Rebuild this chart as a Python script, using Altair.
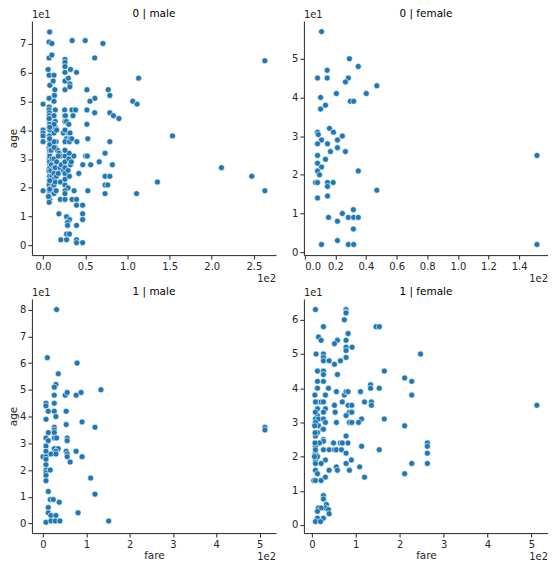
import altair as alt
import pandas as pd

# ---- data (fare, age) ----
# survived 0 | male
m0_fare = [7.8, 7.1, 10.5, 34.5, 50, 71, 61.2, 7.1, 10.5,
           26, 26, 26, 26, 26, 26,
           32.5, 39.7, 6, 7.2, 13, 12, 30, 31.8, 31.8,
           113.3, 8, 14, 52, 77.3, 79.2, 61.4, 55.6, 106.4, 111.5,
           13.5, 7.2, 13, 0, 7.3, 7.2, 7.5, 7.3, 14.5, 25.6, 25.6, 26, 34.2, 38.5, 35.5, 52, 61.2, 79.2, 83.5, 90,
           7.7, 7.9, 7.6, 8.05, 14.4, 14.5, 0, 0, 0, 0, 52, 153.5, 24, 30, 32, 27.7, 32, 40.1, 53.1, 79.2,
           7.9, 8.05, 7.2, 15.5, 14.5, 17, 19, 21, 36.5, 50.5, 52.5, 73.5, 26, 31, 66.6, 82.2, 47.1, 56.5, 32.5,
           42.4, 73.5, 79.2, 73.5, 76.7, 73.5, 135.6, 110.9, 53.1, 36.8, 0, 7.1,
           20.5, 26, 34.4, 39.7, 39.7, 46.9, 46.9, 46.9, 18.8, 27.9, 31.4, 29, 29.1, 39.7, 27.9, 31.3, 21.1, 27.9,
           39.7, 39.7, 46.9,
           263, 263, 211.5, 247.5,
           7.25, 7.9, 7.75, 8.05, 7.9, 7.25, 7.8, 7.05, 8.05, 7.9, 6.95, 7.85, 7.25, 7.5, 7.9, 8.05, 7.75, 8.05,
           7.9, 7.75, 8.05, 6.5, 9.5, 9.2, 9.5, 9.8, 10.5, 10.5, 13, 13, 13, 13, 13, 13, 13, 13, 13, 13, 13,
           14.5, 14.5, 15.5, 15.85, 16.1, 16.1, 18, 18, 20.2, 20.5, 21.7, 24.2, 26, 26, 26, 26, 26, 26, 26, 26,
           26.55, 27.7, 29.7, 29.7, 30.7, 30.5, 31.3, 31.3, 33.5, 34, 26, 26, 7.25, 7.9, 8.0, 7.75, 7.9, 7.25]
m0_age = [74, 70.5, 70, 71, 71, 70, 65, 65, 66,
          64.5, 63.5, 62, 60, 57, 54,
          61, 60, 61, 59, 59, 57, 58, 56, 55,
          58, 55.5, 54, 54, 54, 52, 51, 50, 50, 49,
          52, 51, 50, 49, 48, 47, 46, 45, 47, 47, 45, 43, 47, 47, 45, 47, 46, 46, 45, 44,
          43, 42, 41, 40, 43, 41, 40, 39, 38, 36, 42, 38, 39, 39, 39, 37, 37, 36, 37, 36,
          36, 35, 34, 36, 34, 33, 32, 31, 31, 31, 31, 32, 31, 32, 29, 28, 28, 28, 28,
          25, 24, 24, 21, 21, 18, 22, 18, 19, 19, 19, 19,
          16, 16, 16, 16, 14, 14, 11, 9, 11, 10, 9, 8, 7, 7, 4, 4, 2, 2,
          2, 1, 1,
          64, 19, 27, 24,
          22, 20, 18, 25, 28, 30, 32, 26, 35, 16, 17, 19, 21, 23, 24, 27, 29, 31,
          33, 38, 44, 17, 20, 26, 33, 28, 30, 24, 18, 21, 23, 25, 27, 30, 34, 36, 39, 42, 45,
          22, 27, 19, 24, 29, 40, 25, 31, 27, 22, 28, 26, 21, 23, 25, 27, 29, 33, 36, 40,
          45, 43, 20, 26, 30, 42, 36, 24, 29, 37, 19, 18, 15, 19.5, 22.5, 37, 41, 44]

# survived 0 | female
f0_fare = [11, 29.2, 35, 14.7, 8.4, 14.7, 28.5, 26.6, 47.1, 20.7, 40.2, 10.4, 29.8, 32, 13.6, 10.4,
           16.2, 18.8, 8.4, 8.9, 24.6, 11, 21.4, 8.4, 14.9, 21.4, 16.8, 26.6, 8.4, 13.6, 8.4, 11, 8.4, 35,
           9.7, 7.1, 8.4, 14.9, 18.6, 14.9, 47.1, 8.4, 14.9, 31.8, 24.6, 15.6, 28.5, 32, 35, 21.4, 31.8,
           21.4, 11, 28.5, 32, 151.6, 151.6]
f0_age = [57, 50, 48, 47, 45, 45, 45, 44, 43, 41, 41, 40, 39, 39, 38, 37,
          32, 31, 31, 30.4, 30, 29, 29, 28, 28, 27, 26, 26, 25, 24, 23, 22, 21, 21,
          20, 18, 18, 18, 18, 17, 16, 14, 14.5, 11, 10, 9, 9, 9, 9, 8, 6,
          3, 2, 2, 2, 25, 2]

# survived 1 | male
m1_fare = [31.3, 10, 78.7, 35.2, 29.8, 26, 26, 51.2, 55.8, 76.5, 87.9, 133.8, 6.9, 6.9, 26, 12.2, 26,
           53.5, 29.8, 6.9, 53.5, 90.2, 120, 512.3, 512.3, 26, 26, 26, 12.2, 26, 31.3, 6.9, 12.2, 55.8, 55.8,
           6.9, 26, 35.2, 29.8, 53.5, 76.5, 6.9, 55.8, 55.8, 18.3, 29.8, 0, 6.9, 6.9, 62.7, 90.2,
           6.9, 6.9, 6.9, 6.9, 16.8, 6.9, 110, 12.2, 120, 16.8, 23.7, 37.5, 12.2, 12.2, 18.3, 29.8, 81,
           6.9, 18.3, 28.3, 39, 151.6]
m1_age = [80, 62, 60, 56, 52, 51, 48, 48, 49, 48, 49, 50, 45, 44, 45, 42, 42,
          42, 40, 39, 37, 38, 36, 36, 35, 36, 35, 34, 34, 32, 32, 32, 31, 32, 31,
          29, 28, 28, 27, 27, 27, 27, 26, 25, 26, 26, 25, 25, 24, 23, 25,
          22, 20, 19, 18, 20, 16, 17, 12, 11, 9, 9, 8, 6, 4, 3, 3, 4,
          0.5, 1, 1, 1, 0.92]

# survived 1 | female
f1_fare = [8.3, 78, 78, 78, 74, 26.5, 146.2, 153.8, 82.6, 15.2, 21.2, 58.3, 78, 51.5, 78, 91.7, 78,
           9.8, 26.5, 26.5, 26.5, 247.5, 78, 39.4, 65.2, 51.5, 12.9, 26.5, 26.5, 165, 58.3, 26.5, 12.9,
           211.3, 227.5, 133.7, 133.7, 153.5, 12.9, 37.9, 31, 56, 74, 78, 82.6, 110.9, 227.5,
           12.9, 21.2, 26.5, 69.3, 120, 135.6, 135.6, 51.5, 82.6, 91.1, 12.9, 31, 26.5, 53.1, 85.6, 91.1,
           78, 12.9, 8.3, 15.2, 26.5, 113.3, 164.9, 31, 56, 85.6, 91.1, 106.4, 15.2, 211.3, 24.2, 26.5,
           12.9, 8.3, 78, 26.5, 26.5, 8.3, 17.4, 49.5, 65, 82.2, 69.3, 263, 263, 8.3, 113.3,
           26.5, 39.6, 51.5, 56, 67.4, 153.5, 8.3, 78, 263, 31, 8.3, 12.9, 90, 8.3, 21.2, 78, 227.5, 263,
           56, 108.9, 8.3, 39.4, 58.3, 85.6, 12.9, 211.3, 4.5, 8.3, 21.2, 31, 120, 26.5, 26.5, 33.3, 31,
           15.2, 21.2, 12.9, 37.9, 39.4, 12.9, 26.5, 8.3, 19.7, 512.3,
           6.0, 8.3, 7.5, 8.3, 7.2, 6.5, 7.9, 8.3, 7.0]
f1_age = [63, 63, 62.3, 62, 60, 58, 58, 58, 56, 55, 54, 54, 54, 53, 52, 52, 51,
          50, 50, 49, 48, 50, 49, 48, 48, 47, 45, 45, 44, 45, 44, 42, 42,
          43, 42, 41, 40, 40, 40, 40, 38, 39, 38, 39, 39, 39, 38,
          36, 36, 36, 36, 36, 36, 35, 35, 35, 35, 34, 34, 33, 33, 33, 33,
          32, 32, 31, 31, 31, 31, 31, 30, 30, 30, 30, 30, 29, 29, 28, 28,
          27, 26, 26, 25, 24.5, 24, 24, 24, 24, 24, 24, 24, 23, 23, 23,
          22, 22, 22, 22, 22, 22, 21, 21, 21, 19, 19, 20, 19, 18, 18, 18, 18, 18,
          17, 17, 16, 16, 16, 16, 15, 15, 13, 13, 13, 14, 14, 8.6, 7.6, 6, 5,
          5, 5, 4, 4.5, 3.3, 2, 2, 1, 1, 35,
          20, 22, 27, 30, 24, 29, 33, 36, 38]

panels = [
    ("0 | male", m0_fare, m0_age, [-13.2, 276.2], [0, 50, 100, 150, 200, 250], ".1f", [-3.3, 77.8], list(range(0, 71, 10))),
    ("0 | female", f0_fare, f0_age, [-0.49, 158.8], [0, 20, 40, 60, 80, 100, 120, 140], ".1f", [-0.75, 59.75], list(range(0, 51, 10))),
    ("1 | male", m1_fare, m1_age, [-25.6, 537.9], [0, 100, 200, 300, 400, 500], "d", [-3.56, 83.98], list(range(0, 81, 10))),
    ("1 | female", f1_fare, f1_age, [-18.0, 537.6], [0, 100, 200, 300, 400, 500], "d", [-2.36, 66.1], list(range(0, 61, 10))),
]

W, H = 245, 235
BLUE = "#1f77b4"
INK = "#262626"


def panel(i):
    title, fares, ages, xdom, xt, xfmt, ydom, yt = panels[i]
    df = pd.DataFrame({"fare": fares, "age": ages})
    left = i % 2 == 0
    bottom = i >= 2
    pts = alt.Chart(df).mark_point(filled=True, size=36, color=BLUE, opacity=1,
                                   stroke="white", strokeWidth=0.6).encode(
        x=alt.X("fare:Q", scale=alt.Scale(domain=xdom, nice=False, zero=False),
                axis=alt.Axis(values=xt, labelExpr=f"format(datum.value/100, '{xfmt}')",
                              labelOverlap=False, titlePadding=2,
                              title="fare" if bottom else None)),
        y=alt.Y("age:Q", scale=alt.Scale(domain=ydom, nice=False, zero=False),
                axis=alt.Axis(values=yt, labelExpr="format(datum.value/10, 'd')",
                              labelOverlap=False, titlePadding=1,
                              title="age" if left else None)),
    )
    t1 = alt.Chart(pd.DataFrame({"t": ["1e1"]})).mark_text(
        align="left", baseline="middle", fontSize=10, color=INK, dx=0).encode(
        text="t:N", x=alt.value(0), y=alt.value(-6))
    tt = alt.Chart(pd.DataFrame({"t": [title]})).mark_text(
        align="center", baseline="middle", fontSize=10.5, color="black").encode(
        text="t:N", x=alt.value(W / 2), y=alt.value(-7))
    t2 = alt.Chart(pd.DataFrame({"t": ["1e2"]})).mark_text(
        align="right", baseline="middle", fontSize=10, color=INK).encode(
        text="t:N", x=alt.value(W), y=alt.value(H + 24))
    return alt.layer(pts, t1, tt, t2).properties(width=W, height=H)


chart = alt.concat(panel(0), panel(1), panel(2), panel(3), columns=2,
                   spacing=alt.RowColnumber(row=44, column=28), bounds="flush").properties(
    padding=0
).configure(font="DejaVu Sans").configure_view(stroke=None).configure_axis(
    grid=False, domainColor=INK, tickColor=INK, labelColor=INK, titleColor=INK,
    labelFontSize=10, titleFontSize=10.5, titleFontWeight="normal", tickSize=4,
    labelPadding=2, domainWidth=1, labelFont="DejaVu Sans", titleFont="DejaVu Sans"
)

chart.save("out.html", embed_options={"renderer": "svg", "actions": False})
